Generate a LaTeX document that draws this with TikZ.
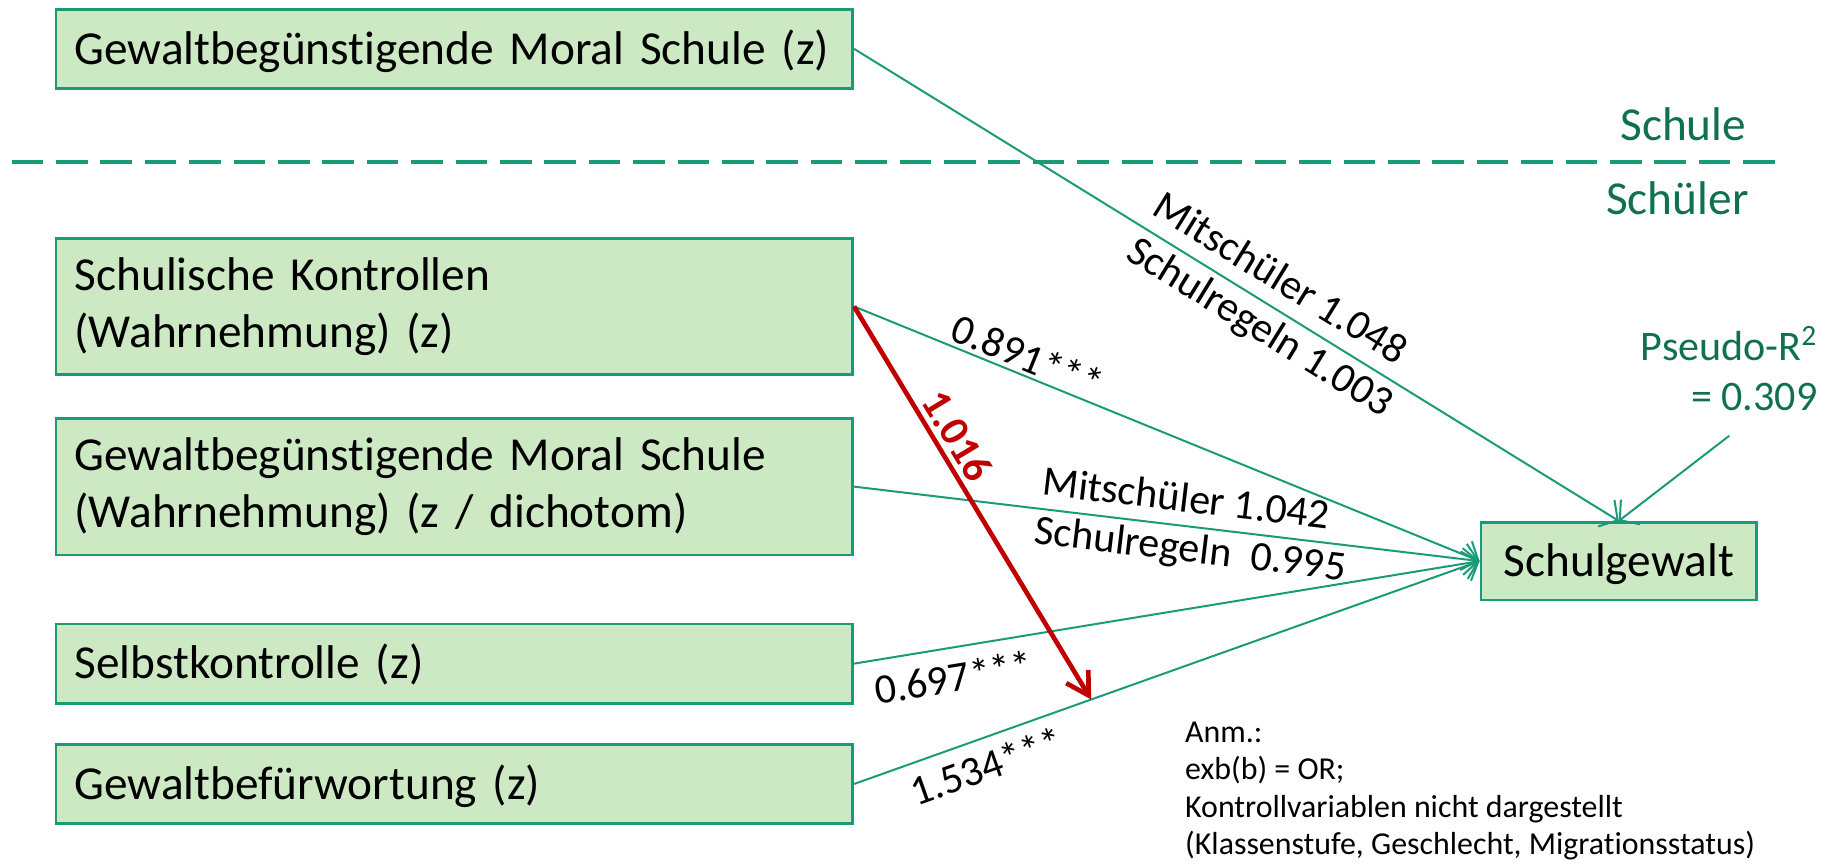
\documentclass[tikz,border=0pt]{standalone}
\usepackage{fontspec}
\setmainfont{Carlito}[Ligatures={NoCommon}]
\usetikzlibrary{arrows.meta,calc}

\definecolor{boxfill}{RGB}{204,233,195}
\definecolor{linegreen}{RGB}{24,155,118}
\definecolor{textgreen}{RGB}{16,112,80}
\definecolor{modred}{RGB}{192,0,0}

\newcommand{\bxfont}{\fontsize{20.25}{24.5}\selectfont}
\newcommand{\edgelabfont}{\fontsize{18}{21.5}\selectfont}
\newcommand{\ntfont}{\fontsize{13.65}{16}\selectfont}

\tikzset{
  varbox/.style={draw=linegreen, fill=boxfill, line width=1.15pt, anchor=west,
    text width=325pt, inner xsep=8pt, inner ysep=0pt, align=left, font=\bxfont},
  oneline/.style={text height=18.2pt, text depth=5.06pt},
  conn/.style={draw=linegreen, line width=0.85pt,
    -{Straight Barb[length=5.7pt,width=13.3pt]}},
  modarrow/.style={draw=modred, line width=2pt,
    -{Straight Barb[length=9.5pt,width=11pt]}},
  lab/.style={sloped, anchor=center, inner sep=0pt, font=\edgelabfont},
  levelsep/.style={draw=linegreen, line width=1.7pt, dash pattern=on 13.5pt off 5.5pt},
  leveltext/.style={font=\bxfont, text=textgreen, inner sep=0pt, anchor=base east}
}

\begin{document}
\begin{tikzpicture}[x=0.5pt, y=-0.5pt]
\useasboundingbox (0,0) rectangle (1568,739);

% level separator between school and student level
\coordinate (sepL) at (10,139);
\coordinate (sepR) at (1523,139);
\draw[levelsep] (sepL) -- (sepR);
\node[leveltext] (schule) at (1495,120) {Schule};
\node[leveltext] (schueler) at (1497,184) {Schüler};

% predictors
\node[varbox, oneline, minimum height=33.8pt] (b1) at (46.7,41.8)
  {Gewaltbegünstigende Moral Schule (z)};
\node[varbox, minimum height=58.3pt] (b2) at (46.7,262.3)
  {Schulische Kontrollen\\(Wahrnehmung) (z)};
\node[varbox, minimum height=58.5pt] (b3) at (46.7,416.5)
  {Gewaltbegünstigende Moral Schule\\(Wahrnehmung) (z / dichotom)};
\node[varbox, oneline, minimum height=34pt] (b4) at (46.7,568)
  {Selbstkontrolle (z)};
\node[varbox, oneline, minimum height=34pt] (b5) at (46.7,671)
  {Gewaltbefürwortung (z)};

% outcome
\node[draw=linegreen, fill=boxfill, line width=1.15pt, font=\bxfont, oneline,
  inner sep=0pt, minimum width=118pt, minimum height=33.25pt] (sg) at (1385.5,480.25)
  {Schulgewalt};

% model fit
\node[font=\edgelabfont, text=textgreen, align=right, inner xsep=0pt, inner ysep=10.5pt,
  anchor=south] (pr) at (1480,373) {Pseudo-R\textsuperscript{2}\\= 0.309};

% note
\node[font=\ntfont, align=left, inner sep=0pt, anchor=north west] (anm) at (1014,617.4)
  {Anm.:\\exb(b) = OR;\\Kontrollvariablen nicht dargestellt\\(Klassenstufe, Geschlecht, Migrationsstatus)};

% effects
\draw[conn] (b1.east) -- (sg.north)
  node[lab, pos=0.538, yshift=12.85pt] {Mitschüler 1.048}
  node[lab, pos=0.547, yshift=-10.85pt] {Schulregeln 1.003};
\draw[conn] (b2.east) -- (sg.west)
  node[lab, pos=0.266, yshift=8.35pt] {0.891***};
\draw[conn] (b3.east) -- (sg.west)
  node[lab, pos=0.526, yshift=12.2pt] {Mitschüler 1.042}
  node[lab, pos=0.542, yshift=-10.4pt] {Schulregeln\ \ 0.995};
\draw[conn] (b4.east) -- (sg.west)
  node[lab, pos=0.151, yshift=-12.65pt] {0.697***};
\draw[conn] (b5.east) -- (sg.west)
  node[lab, pos=0.197, yshift=-11.65pt] {1.534***}
  coordinate[pos=0.379] (mod);
\draw[conn] (pr.south) -- (sg.north);

% moderation
\draw[modarrow] (b2.east) -- (mod)
  node[lab, font=\bfseries\edgelabfont, text=modred, pos=0.358, yshift=9.35pt] {1.016};
\end{tikzpicture}
\end{document}
